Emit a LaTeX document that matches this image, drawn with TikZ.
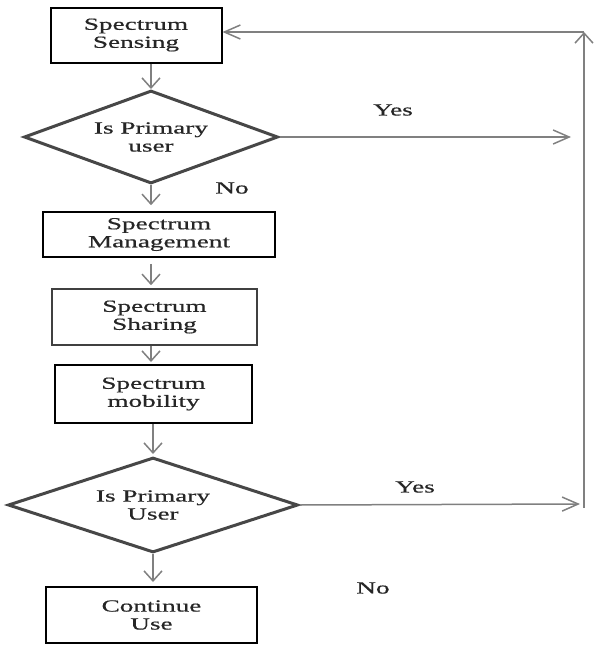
\documentclass[tikz,border=0pt]{standalone}
\usepackage{fontspec}
\setmainfont[FakeStretch=1.6,FakeBold=0.6]{Liberation Serif}
\usetikzlibrary{shapes.geometric,arrows.meta}
\begin{document}
\begin{tikzpicture}[x=1pt,y=-1pt,
  txt/.style={font=\fontsize{17}{18}\selectfont, text=black!85, align=center},
  box/.style={txt, draw=black, line width=2pt, minimum width=#1, inner sep=0pt},
  dia/.style={txt, shape=diamond, draw=black!72, line width=3pt, inner sep=0pt},
  varrow/.style={draw=black!50, line width=1.5pt, -{Straight Barb[length=10pt,width=18pt,line width=1.5pt]}},
  harrow/.style={draw=black!50, line width=1.5pt, -{Straight Barb[length=16pt,width=14pt,line width=1.5pt]}},
  conn/.style={draw=black!50, line width=1.5pt},
  lbl/.style={txt}]
\useasboundingbox (0,0) rectangle (600,646);
\node[box=171pt, minimum height=55pt] (b1) at (136,35) {Spectrum\\Sensing};
\node[dia, minimum width=254pt, minimum height=93pt, aspect=2.7] (d1) at (151,137) {Is Primary\\user};
\node[box=232pt, minimum height=45pt, line width=1.6pt] (b2) at (159,234.5) {Spectrum\\Management};
\node[box=205pt, minimum height=56pt, line width=1.6pt, draw=black!75] (b3) at (154.5,317) {Spectrum\\Sharing};
\node[box=197pt, minimum height=58pt] (b4) at (153.5,394) {Spectrum\\mobility};
\node[dia, minimum width=290pt, minimum height=95pt, aspect=3] (d2) at (153,505) {Is Primary\\User};
\node[box=211pt, minimum height=56pt] (b5) at (151.5,615) {Continue\\Use};

\node[lbl] (y1) at (393,110) {Yes};
\node[lbl] (n1) at (232,188) {No};
\node[lbl] (y2) at (415,487) {Yes};
\node[lbl] (n2) at (373,588) {No};

\coordinate (ya) at (571,137);
\coordinate (yb) at (580,504);
\coordinate (vb) at (584,508);
\coordinate (vt) at (584,32);

\draw[varrow] (d1.north |- b1.south) -- (d1.north);
\draw[varrow, shorten >=6pt] (d1.south) -- (d1.south |- b2.north);
\draw[varrow, shorten <=6pt, shorten >=3pt] (d1.south |- b2.south) -- (d1.south |- b3.north);
\draw[varrow, shorten >=2pt] (d1.south |- b3.south) -- (d1.south |- b4.north);
\draw[varrow, shorten >=2pt] (d2.north |- b4.south) -- (d2.north);
\draw[varrow, shorten >=4pt] (d2.south) -- (d2.south |- b5.north);

\draw[harrow] (d1.east) -- (ya);
\draw[harrow] (d2.east) -- (yb);
\draw[varrow] (vb) -- (vt);
\draw[harrow] (vt) -- (b1.east |- vt);
\end{tikzpicture}
\end{document}
